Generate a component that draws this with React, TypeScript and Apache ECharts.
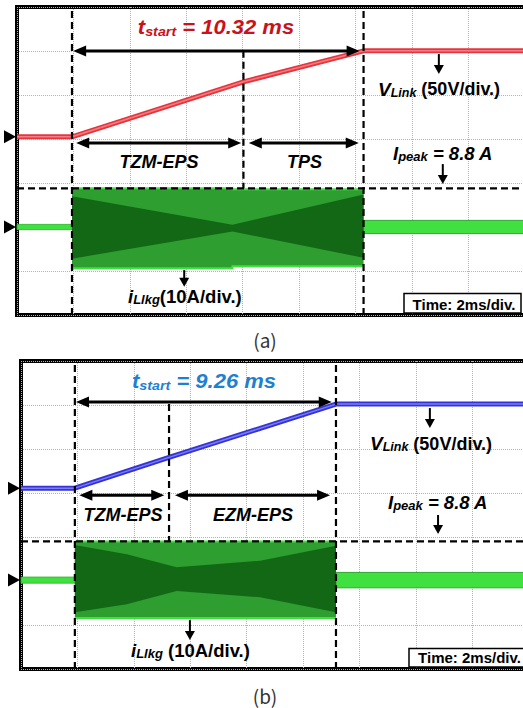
import React, { useEffect, useRef } from 'react';
import * as echarts from 'echarts';

// ===== oscilloscope settings =====
const V_PER_DIV = 50; // V/div
const A_PER_DIV = 10; // A/div
const X_MAX_MS = 19.15; // visible time span (2 ms/div)
const I_PEAK = 8.8; // A

// ===== panel (a) =====
const vTimeA = [0, 1.95, 8.03, 12.29, 19.2];
const vLinkA = [0, 0, 62.5, 97.7, 97.7];
const iPreTimeA = [0, 1.95];
const iPostTimeA = [12.29, 19.2];
const iBlockTimeA = [1.95, 7.64, 7.64, 12.29];
const iBlockTopA = [8.8, 8.8, 8.6, 8.6];
const iBlockBotA = [-9.4, -9.4, -8.9, -8.9];
const iCoreTimeA = [1.95, 7.64, 12.29];
const iCoreTopA = [7.0, 0.5, 7.4];
const iCoreBotA = [-7.2, -1.0, -7.0];
const phaseTimesA = [1.95, 8.03, 12.29];

// ===== panel (b) =====
const vTimeB = [0, 1.91, 5.25, 11.17, 19.2];
const vLinkB = [0, 0, 35, 95.5, 95.5];
const iPreTimeB = [0, 1.91];
const iPostTimeB = [11.17, 19.2];
const iBlockTimeB = [1.91, 11.17];
const iBlockTopB = [8.8, 8.8];
const iBlockBotB = [-8.6, -8.6];
const iCoreTimeB = [1.91, 3.75, 5.52, 8.48, 11.17];
const iCoreTopB = [8.0, 5.9, 2.9, 4.4, 7.8];
const iCoreBotB = [-7.3, -5.5, -2.5, -3.9, -7.3];
const phaseTimesB = [1.91, 5.25, 11.17];

const FONT = '"Liberation Sans", Arial, sans-serif';
const GREEN_BRIGHT = '#41e041';
const GREEN_LIGHT = '#2f9e30';
const GREEN_DARK = '#126815';

type Arrow = { a: number[]; b: number[]; both: boolean; big: boolean };

const panels = [
  {
    g: 0,
    vTime: vTimeA, vVal: vLinkA, vGround: 4.05, iGround: 2.0,
    preT: iPreTimeA, preHalf: 0.6, postT: iPostTimeA, postHalf: 1.5,
    blockT: iBlockTimeA, blockTop: iBlockTopA, blockBot: iBlockBotA,
    coreT: iCoreTimeA, coreTop: iCoreTopA, coreBot: iCoreBotA,
    phases: phaseTimesA,
    trace: '#e5363e', traceHi: '#f47d84',
    arrows: [
      { a: [1.99, 6.0], b: [12.15, 6.0], both: true, big: true },
      { a: [2.1, 3.91], b: [7.95, 3.91], both: true, big: true },
      { a: [8.22, 3.91], b: [12.12, 3.91], both: true, big: true },
      { a: [14.96, 5.93], b: [14.96, 5.48], both: false, big: false },
      { a: [15.1, 3.43], b: [15.1, 2.98], both: false, big: false },
      { a: [5.93, 1.02], b: [5.93, 0.64], both: false, big: false },
    ] as Arrow[],
  },
  {
    g: 1,
    vTime: vTimeB, vVal: vLinkB, vGround: 4.11, iGround: 2.02,
    preT: iPreTimeB, preHalf: 0.7, postT: iPostTimeB, postHalf: 1.75,
    blockT: iBlockTimeB, blockTop: iBlockTopB, blockBot: iBlockBotB,
    coreT: iCoreTimeB, coreTop: iCoreTopB, coreBot: iCoreBotB,
    phases: phaseTimesB,
    trace: '#3434d6', traceHi: '#7c7cf4',
    arrows: [
      { a: [1.95, 6.07], b: [11.02, 6.07], both: true, big: true },
      { a: [2.07, 3.95], b: [5.08, 3.95], both: true, big: true },
      { a: [5.46, 3.95], b: [10.96, 3.95], both: true, big: true },
      { a: [14.5, 5.93], b: [14.5, 5.48], both: false, big: false },
      { a: [14.79, 3.5], b: [14.79, 3.07], both: false, big: false },
      { a: [5.99, 1.11], b: [5.99, 0.66], both: false, big: false },
    ] as Arrow[],
  },
];

function head(tip: number[], from: number[], len: number, w: number) {
  const dx = tip[0] - from[0];
  const dy = tip[1] - from[1];
  const L = Math.hypot(dx, dy) || 1;
  const ux = dx / L, uy = dy / L;
  const bx = tip[0] - ux * len, by = tip[1] - uy * len;
  const px = -uy * w / 2, py = ux * w / 2;
  return {
    type: 'polygon',
    shape: { points: [tip, [bx + px, by + py], [bx - px, by - py]] },
    style: { fill: '#000' },
  };
}

function arrowEls(p1: number[], p2: number[], both: boolean, big: boolean) {
  const lw = big ? 3 : 2;
  const hl = big ? 13 : 9;
  const hw = big ? 11 : 10;
  const dx = p2[0] - p1[0], dy = p2[1] - p1[1];
  const L = Math.hypot(dx, dy) || 1;
  const ux = dx / L, uy = dy / L;
  const s = both ? [p1[0] + ux * hl * 0.7, p1[1] + uy * hl * 0.7] : p1;
  const e = [p2[0] - ux * hl * 0.7, p2[1] - uy * hl * 0.7];
  const els: any[] = [
    { type: 'line', shape: { x1: s[0], y1: s[1], x2: e[0], y2: e[1] }, style: { stroke: '#000', lineWidth: lw } },
    head(p2, p1, hl, hw),
  ];
  if (both) els.push(head(p1, p2, hl, hw));
  return els;
}

function shapeSeries(g: number, z: number, draw: (c: (t: number, d: number) => number[]) => any[]) {
  return {
    type: 'custom',
    xAxisIndex: g,
    yAxisIndex: g,
    data: [[0, 0]],
    z,
    silent: true,
    clip: false,
    encode: { x: 0, y: 1 },
    renderItem: (_p: any, api: any) => ({
      type: 'group',
      children: draw((t: number, d: number) => api.coord([t, d])),
    }),
  };
}

function panelSeries(p: (typeof panels)[number]) {
  const vDiv = (v: number) => p.vGround + v / V_PER_DIV;
  const iDiv = (i: number) => p.iGround + i / A_PER_DIV;
  const vFinal = p.vVal[p.vVal.length - 1];
  const series: any[] = [];

  // leakage current (green)
  series.push(
    shapeSeries(p.g, 2, (c) => {
      const poly = (ts: number[], top: number[], bot: number[]) => [
        ...ts.map((t, k) => c(t, iDiv(top[k]))),
        ...ts.map((t, k) => c(t, iDiv(bot[k]))).reverse(),
      ];
      const flat = (ts: number[], h: number) => poly(ts, ts.map(() => h), ts.map(() => -h));
      return [
        { type: 'polygon', shape: { points: flat(p.preT, p.preHalf) }, style: { fill: GREEN_BRIGHT, stroke: '#2fb62f', lineWidth: 0.8 } },
        { type: 'polygon', shape: { points: flat(p.postT, p.postHalf) }, style: { fill: GREEN_BRIGHT, stroke: '#2aa82a', lineWidth: 1 } },
        { type: 'polygon', shape: { points: poly(p.blockT, p.blockTop, p.blockBot) }, style: { fill: GREEN_LIGHT } },
        { type: 'polygon', shape: { points: poly(p.coreT, p.coreTop, p.coreBot) }, style: { fill: GREEN_DARK } },
        { type: 'polyline', shape: { points: p.blockT.map((t, k) => c(t, iDiv(p.blockTop[k]))) }, style: { stroke: GREEN_BRIGHT, lineWidth: 2, fill: 'none' } },
        { type: 'polyline', shape: { points: p.blockT.map((t, k) => c(t, iDiv(p.blockBot[k]))) }, style: { stroke: GREEN_BRIGHT, lineWidth: 2, fill: 'none' } },
      ];
    })
  );

  // voltage trace
  const vData = p.vTime.map((t, k) => [t, vDiv(p.vVal[k])]);
  series.push({
    type: 'line', xAxisIndex: p.g, yAxisIndex: p.g, data: vData, symbol: 'none', silent: true, z: 3,
    lineStyle: { color: p.trace, width: 5 },
  });
  series.push({
    type: 'line', xAxisIndex: p.g, yAxisIndex: p.g, data: vData, symbol: 'none', silent: true, z: 4,
    lineStyle: { color: p.traceHi, width: 1.5 },
  });

  // dashed markers
  series.push(
    shapeSeries(p.g, 5, (c) => {
      const dash = (a: number[], b: number[]) => ({
        type: 'line',
        shape: { x1: a[0], y1: a[1], x2: b[0], y2: b[1] },
        style: { stroke: '#000', lineWidth: 2.2, lineDash: [7, 4] },
      });
      const [t0, tm, t1] = p.phases;
      return [
        dash(c(t0, 0), c(t0, 7)),
        dash(c(t1, 0), c(t1, 7)),
        dash(c(tm, vDiv(vFinal)), c(tm, iDiv(I_PEAK))),
        dash(c(0, iDiv(I_PEAK)), c(X_MAX_MS, iDiv(I_PEAK))),
      ];
    })
  );

  // arrows + ground markers
  series.push(
    shapeSeries(p.g, 6, (c) => {
      const els: any[] = [];
      p.arrows.forEach((ar) => els.push(...arrowEls(c(ar.a[0], ar.a[1]), c(ar.b[0], ar.b[1]), ar.both, ar.big)));
      [vDiv(0), iDiv(0)].forEach((d) => {
        const q = c(0, d);
        els.push({
          type: 'polygon',
          shape: { points: [[q[0] - 1, q[1]], [q[0] - 13, q[1] - 6.5], [q[0] - 13, q[1] + 6.5]] },
          style: { fill: '#000' },
        });
      });
      return els;
    })
  );
  return series;
}

const rich = (main: number, sub: number, normal: number, color: string, lh: number) => ({
  m: { fontFamily: FONT, fontWeight: 'bold', fontStyle: 'italic', fontSize: main, lineHeight: lh, verticalAlign: 'middle', fill: color },
  s: { fontFamily: FONT, fontWeight: 'bold', fontStyle: 'italic', fontSize: sub, lineHeight: sub, verticalAlign: 'bottom', fill: color },
  n: { fontFamily: FONT, fontWeight: 'bold', fontStyle: 'normal', fontSize: normal, lineHeight: lh, verticalAlign: 'middle', fill: color },
});

const label = (x: number, y: number, text: string, r: any, align = 'left', scaleX = 1) => ({
  type: 'text', x, y, scaleX, z: 100, silent: true,
  style: { text, rich: r, align, verticalAlign: 'middle', fill: '#000', font: `bold 18px ${FONT}` },
});

const RED = '#c8121c';
const BLUE = '#1f7fd2';

function buildGraphics() {
  const g: any[] = [];
  // panel (a)
  g.push(label(216, 27, '{m|t}{s|start}{m| = 10.32 ms}', rich(20, 13, 20, RED, 22.5), 'center', 1.1));
  g.push(label(159, 162, '{m|TZM-EPS}', rich(18, 12, 18, '#000', 20), 'center'));
  g.push(label(304.5, 162, '{m|TPS}', rich(18, 12, 18, '#000', 20), 'center'));
  g.push(label(378, 89, '{m|V}{s|Link}{n| (50V/div.)}', rich(19, 12.5, 18, '#000', 20)));
  g.push(label(393, 153, '{m|I}{s|peak}{m| = 8.8 A}', rich(18.5, 13, 18.5, '#000', 19.5)));
  g.push(label(128, 296, '{m|i}{s|Llkg}{n|(10A/div.)}', rich(18.5, 13, 18.5, '#000', 19.5)));
  g.push({ type: 'rect', z: 99, silent: true, shape: { x: 404, y: 293.5, width: 117, height: 19.5 }, style: { fill: '#fff', stroke: '#000', lineWidth: 1.5 } });
  g.push(label(464, 304.5, '{n|Time: 2ms/div.}', rich(15, 10, 15, '#000', 16), 'center'));
  g.push({ type: 'text', x: 265, y: 339, z: 100, silent: true, style: { text: '(a)', font: '19px "Noto Sans CJK KR"', fill: '#333', align: 'center', verticalAlign: 'middle' } });
  // panel (b)
  g.push(label(204, 380.5, '{m|t}{s|start}{m| = 9.26 ms}', rich(20, 13, 20, BLUE, 22.5), 'center', 1.1));
  g.push(label(123, 515, '{m|TZM-EPS}', rich(18, 12, 18, '#000', 20), 'center'));
  g.push(label(253, 515, '{m|EZM-EPS}', rich(18, 12, 18, '#000', 20), 'center'));
  g.push(label(370, 443.5, '{m|V}{s|Link}{n| (50V/div.)}', rich(19, 12.5, 18, '#000', 20)));
  g.push(label(388, 502.5, '{m|I}{s|peak}{m| = 8.8 A}', rich(18.5, 13, 18.5, '#000', 19.5)));
  g.push(label(131, 650, '{m|i}{s|Llkg}{n| (10A/div.)}', rich(18.5, 13, 18.5, '#000', 19.5)));
  g.push({ type: 'rect', z: 99, silent: true, shape: { x: 409, y: 648.5, width: 130, height: 18.5 }, style: { fill: '#fff', stroke: '#000', lineWidth: 1.5 } });
  g.push(label(469.5, 657, '{n|Time: 2ms/div.}', rich(15, 10, 15, '#000', 16), 'center'));
  g.push({ type: 'text', x: 265, y: 695, z: 100, silent: true, style: { text: '(b)', font: '19px "Noto Sans CJK KR"', fill: '#333', align: 'center', verticalAlign: 'middle' } });
  return g;
}

function buildOption() {
  const grids = [
    { left: 17, top: 7, width: 540, height: 308 },
    { left: 21, top: 361, width: 540, height: 308 },
  ].map((gr) => ({ ...gr, show: true, borderColor: '#000', borderWidth: 4, backgroundColor: '#fff', containLabel: false, outerBoundsMode: 'none' }));
  const dotted = { show: true, lineStyle: { type: 'dotted', color: '#b3b3b3', width: 1 } };
  const xAxis = [0, 1].map((g) => ({
    type: 'value', gridIndex: g, min: 0, max: X_MAX_MS, interval: 2,
    axisLine: { show: false }, axisTick: { show: false }, axisLabel: { show: false }, splitLine: dotted,
  }));
  const yAxis = [0, 1].map((g) => ({
    type: 'value', gridIndex: g, min: 0, max: 7, interval: 1,
    axisLine: { show: false }, axisTick: { show: false }, axisLabel: { show: false }, splitLine: dotted,
  }));
  return {
    animation: false,
    backgroundColor: '#fff',
    grid: grids,
    xAxis,
    yAxis,
    series: [...panelSeries(panels[0]), ...panelSeries(panels[1])],
    graphic: buildGraphics(),
  };
}

export default function App() {
  const ref = useRef<HTMLDivElement>(null);
  useEffect(() => {
    const chart = echarts.init(ref.current!, null, { renderer: 'svg' });
    chart.setOption(buildOption() as any);
    return () => chart.dispose();
  }, []);
  return <div ref={ref} style={{ position: 'fixed', left: 0, top: 0, width: 523, height: 708 }} />;
}
